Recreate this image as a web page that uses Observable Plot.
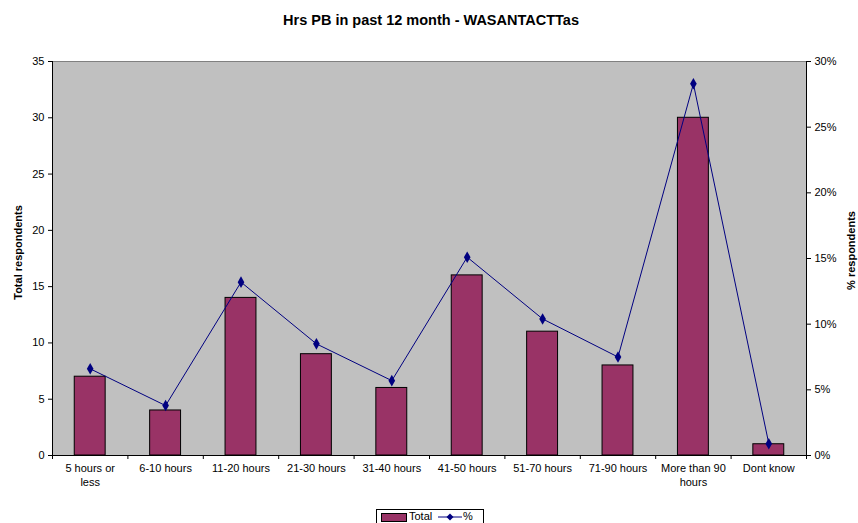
<!DOCTYPE html>
<html><head><meta charset="utf-8">
<script src="https://cdn.jsdelivr.net/npm/d3@7"></script>
<script src="https://cdn.jsdelivr.net/npm/@observablehq/plot@0.6"></script>
<style>
body{margin:0;background:#fff;font-family:"Liberation Sans",Arial,sans-serif;width:858px;height:523px;overflow:hidden;position:relative}
#title{position:absolute;top:11px;left:2px;width:858px;text-align:center;font-weight:bold;font-size:14.5px;line-height:18px;color:#000}
#chart{position:absolute;top:40px;left:0}
#legend{position:absolute;left:376px;top:509px;width:106px;height:20px;border:1px solid #000;background:#fff;font-size:11px}
#legend .sw{position:absolute;left:4px;top:3px;width:24px;height:7px;background:#993366;border:1px solid #000}
#legend .t1{position:absolute;left:32px;top:0px}
#legend svg{position:absolute;left:60px;top:0px}
#legend .t2{position:absolute;left:86px;top:0px}
</style></head>
<body>
<div id="title">Hrs PB in past 12 month - WASANTACTTas</div>
<div id="chart"></div>
<div id="legend"><div class="sw"></div><span class="t1">Total</span>
<svg width="26" height="14"><line x1="1" y1="7" x2="25" y2="7" stroke="#000080" stroke-width="1"/><path d="M13,3.5L16.5,7L13,10.5L9.5,7Z" fill="#000080"/></svg><span class="t2">%</span></div>
<script>
const categories = ["5 hours or less","6-10 hours","11-20 hours","21-30 hours","31-40 hours","41-50 hours","51-70 hours","71-90 hours","More than 90 hours","Dont know"];
const tickLabels = ["5 hours or\nless","6-10 hours","11-20 hours","21-30 hours","31-40 hours","41-50 hours","51-70 hours","71-90 hours","More than 90\nhours","Dont know"];
const totals = [7,4,14,9,6,16,11,8,30,1];
const percents = [6.6,3.8,13.2,8.5,5.7,15.1,10.4,7.5,28.3,0.9];
const leftTicks = [0,5,10,15,20,25,30,35];
const rightTicks = [0,5,10,15,20,25,30];
const rightTickLabels = ["0%","5%","10%","15%","20%","25%","30%"];
const countMax = 35, pctMax = 30;

const data = categories.map((c,i)=>({c, i, total: totals[i], pct: percents[i]}));
const toCount = p => p * countMax / pctMax;

const chart = Plot.plot({
  width: 858, height: 465,
  marginLeft: 52, marginRight: 52, marginTop: 21, marginBottom: 50,
  style: {fontFamily: "'Liberation Sans', Arial, sans-serif", fontSize: "11px", color: "#000", background: "transparent"},
  x: {domain: [0, categories.length], axis: null},
  y: {domain: [0, countMax], axis: null},
  marks: [
    Plot.frame({fill: "#c0c0c0", stroke: null}),
    Plot.ruleY([countMax], {stroke: "#808080"}),
    Plot.rectY(data, {x1: d => d.i + 0.295, x2: d => d.i + 0.705, y: "total", fill: "#993366", stroke: "#000", strokeWidth: 1}),
    Plot.line(data, {x: d => d.i + 0.5, y: d => toCount(d.pct), stroke: "#000080", strokeWidth: 1}),
    Plot.dot(data, {x: d => d.i + 0.5, y: d => toCount(d.pct), symbol: "diamond", r: 3.5, fill: "#000080", stroke: null}),
    Plot.ruleX([0], {stroke: "#000"}),
    Plot.ruleX([categories.length], {stroke: "#000"}),
    Plot.ruleY([0], {stroke: "#000"}),
    Plot.axisY({anchor: "left", ticks: leftTicks, tickSize: 4, tickPadding: 4, label: null, fontSize: 11}),
    Plot.axisY({anchor: "right", ticks: rightTicks.map(toCount), tickFormat: (d,i) => rightTickLabels[i], tickSize: 4, tickPadding: 4, label: null, fontSize: 11}),
    Plot.axisX({anchor: "bottom", ticks: d3.range(0, categories.length + 1), tickFormat: () => "", tickSize: 4, label: null}),
    Plot.text(tickLabels, {x: (d,i) => i + 0.5, y: 0, text: d => d, lineAnchor: "top", dy: 7, fontSize: 11, lineHeight: 1.25}),
    Plot.text(["Total respondents"], {frameAnchor: "left", textAnchor: "middle", rotate: -90, dx: -34, dy: -6, fontWeight: "bold", fontSize: 11}),
    Plot.text(["% respondents"], {frameAnchor: "right", textAnchor: "middle", rotate: -90, dx: 45, dy: -8, fontWeight: "bold", fontSize: 11})
  ]
});
document.getElementById("chart").appendChild(chart);
</script>
</body></html>
